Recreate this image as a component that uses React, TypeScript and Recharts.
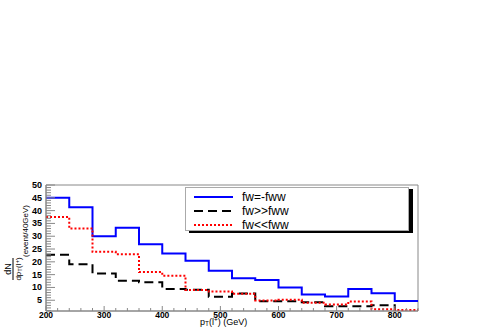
import { ComposedChart, Line, XAxis, YAxis, ReferenceArea, Legend } from 'recharts';

// bin lower edges (40 GeV bins) + upper edge of last bin
const binEdges = [200, 240, 280, 320, 360, 400, 440, 480, 520, 560, 600, 640, 680, 720, 760, 800, 840];

// dN/dpT (events / 40 GeV) per bin
const fwMinusFww = [45, 41.3, 30, 33.3, 26.9, 23.3, 20.4, 16.5, 13.6, 12.9, 10, 7.2, 6.5, 9.4, 7.7, 4.7];
const fwGtFww = [22.8, 19.1, 15.4, 12.6, 12, 9.4, 9.1, 6.4, 7.6, 4.6, 4.6, 4.2, 2.7, 2.7, 3, 0];
const fwLtFww = [37.5, 33, 23.9, 23, 16, 14.6, 9, 8.4, 7.5, 4.9, 5.2, 4, 3.3, 4.5, 1.5, 1.2];

const xMajor = [200, 300, 400, 500, 600, 700, 800];
const yMajor = [5, 10, 15, 20, 25, 30, 35, 40, 45, 50];

const xMinor = Array.from({ length: 33 }, (_, i) => 200 + i * 20);
const yMinor = Array.from({ length: 50 }, (_, i) => i + 1);

const data = binEdges.map((edge, i) => {
  const b = Math.min(i, fwMinusFww.length - 1);
  return { pt: edge, a: fwMinusFww[b], b: fwGtFww[b], c: fwLtFww[b] };
});

const legendOrder = ['a', 'b', 'c'];
const seriesStyle: Record<string, { stroke: string; dash?: string }> = {
  a: { stroke: '#0000ff' },
  b: { stroke: '#000000', dash: '9 5' },
  c: { stroke: '#ff0000', dash: '2 2' },
};

const AXIS = '#888888';
const labelFont = '"Liberation Sans", Arial, sans-serif';

function XTick(props: any) {
  const { x, y, payload } = props;
  const major = xMajor.includes(payload.value);
  return (
    <g>
      <line x1={x} y1={y} x2={x} y2={y - (major ? 5 : 3)} stroke={AXIS} />
      {major && (
        <text x={x} y={y + 7} textAnchor="middle" fontSize={8.5} fontWeight="bold" fontFamily={labelFont} fill="#000">
          {payload.value}
        </text>
      )}
    </g>
  );
}

function YTick(props: any) {
  const { x, y, payload } = props;
  const major = yMajor.includes(payload.value);
  return (
    <g>
      <line x1={x} y1={y} x2={x + (major ? 9 : 5)} y2={y} stroke={AXIS} />
      {major && (
        <text x={x - 4} y={y + 3} textAnchor="end" fontSize={9} fontWeight="bold" fontFamily={labelFont} fill="#000">
          {payload.value}
        </text>
      )}
    </g>
  );
}

function LegendBox(props: any) {
  const items = [...(props.payload || [])].sort(
    (p: any, q: any) => legendOrder.indexOf(p.dataKey) - legendOrder.indexOf(q.dataKey)
  );
  return (
    <div
      style={{
        width: 224,
        height: 44,
        background: '#fff',
        border: '1px solid #aaa',
        boxShadow: '4px 2px 0 #000',
        paddingTop: 2,
        boxSizing: 'border-box',
      }}
    >
      {items.map((entry: any) => {
        const s = seriesStyle[entry.dataKey];
        return (
          <div key={entry.dataKey} style={{ height: 14, display: 'flex', alignItems: 'center' }}>
            <svg width={56} height={14}>
              <line x1={8} y1={7} x2={47} y2={7} stroke={s.stroke} strokeWidth={2} strokeDasharray={s.dash} />
            </svg>
            <span style={{ fontFamily: labelFont, fontSize: 12, color: '#000' }}>{entry.value}</span>
          </div>
        );
      })}
    </div>
  );
}

export default function App() {
  return (
    <div style={{ position: 'absolute', left: 0, top: 0, width: 501, height: 327, background: '#fff' }}>
      <ComposedChart width={501} height={327} data={data} margin={{ top: 185, right: 83, bottom: 0, left: 0 }}>
        <XAxis
          dataKey="pt"
          type="number"
          domain={[200, 840]}
          ticks={xMinor}
          interval={0}
          tickSize={0}
          tickMargin={0}
          height={16}
          axisLine={{ stroke: AXIS }}
          tick={<XTick />}
        />
        <YAxis
          type="number"
          domain={[0.8, 50]}
          allowDataOverflow
          ticks={yMinor}
          interval={0}
          tickSize={0}
          tickMargin={0}
          width={46}
          axisLine={{ stroke: AXIS }}
          tick={<YTick />}
        />
        <ReferenceArea x1={200} x2={840} y1={0.8} y2={50} fill="none" stroke={AXIS} strokeWidth={1} />
        <Legend
          layout="vertical"
          align="center"
          verticalAlign="middle"
          wrapperStyle={{ left: 185, top: 187, width: 224 }}
          content={<LegendBox />}
        />
        <Line type="stepAfter" dataKey="a" name="fw=-fww" stroke="#0000ff" strokeWidth={2} dot={false} isAnimationActive={false} />
        <Line type="stepAfter" dataKey="b" name="fw>>fww" stroke="#000000" strokeWidth={2} strokeDasharray="9 5" dot={false} isAnimationActive={false} />
        <Line type="stepAfter" dataKey="c" name="fw<<fww" stroke="#ff0000" strokeWidth={2} strokeDasharray="2 2" dot={false} isAnimationActive={false} />
      </ComposedChart>
      <svg width={501} height={327} style={{ position: 'absolute', left: 0, top: 0, pointerEvents: 'none' }}>
        <text x={200} y={324.5} fontSize={9} fontFamily={labelFont} fill="#000">
          p<tspan fontSize={6.5} dy={1.5}>T</tspan>
          <tspan dy={-1.5}>(l</tspan>
          <tspan fontSize={6.5} dy={-3}>+</tspan>
          <tspan dy={3}>)   (GeV)</tspan>
        </text>
        <g transform="translate(28, 231) rotate(-90)">
          <text x={0} y={0} textAnchor="middle" fontSize={8} fontFamily={labelFont} fill="#000">
            (event/40GeV)
          </text>
        </g>
        <g transform="translate(13, 269) rotate(-90)">
          <text x={0} y={-2} textAnchor="middle" fontSize={9} fontFamily={labelFont} fill="#000">
            dN
          </text>
          <line x1={-11} y1={0} x2={11} y2={0} stroke="#000" strokeWidth={1} />
          <text x={0} y={8} textAnchor="middle" fontSize={8} fontFamily={labelFont} fill="#000">
            dp<tspan fontSize={6} dy={1}>T</tspan>
            <tspan dy={-1}>(l</tspan>
            <tspan fontSize={6} dy={-2}>+</tspan>
            <tspan dy={2}>)</tspan>
          </text>
        </g>
      </svg>
    </div>
  );
}
